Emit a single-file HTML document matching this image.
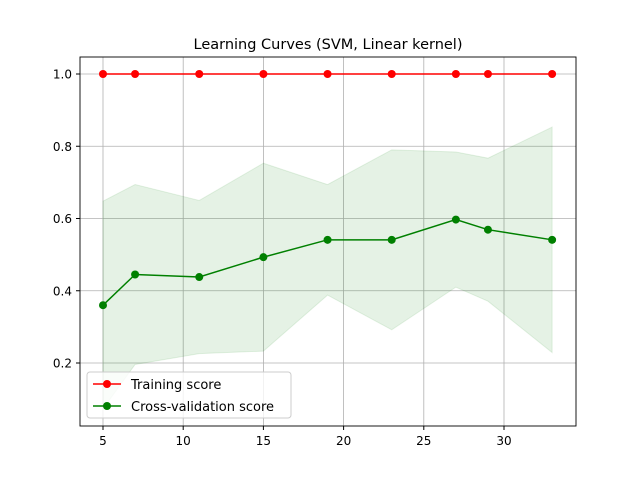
<!DOCTYPE html>
<html><head><meta charset="utf-8"><style>
body{margin:0;background:#fff;}
svg text{font-family:"DejaVu Sans","Liberation Sans",sans-serif;}
</style></head><body>
<svg id="chart" width="640" height="478" viewBox="0 0 640 478" xmlns="http://www.w3.org/2000/svg">
<rect width="640" height="478" fill="#fff"/>
<text x="328" y="49" text-anchor="middle" font-size="14.5">Learning Curves (SVM, Linear kernel)</text>
<g id="grid"></g>
<g id="band"></g>
<g id="series"></g>
<rect x="80" y="57" width="496" height="369" fill="none" stroke="#000" stroke-width="0.9"/>
<g id="ticks"></g>
<g>
<rect x="87" y="372" width="204" height="46" rx="3" fill="#fff" fill-opacity="0.8" stroke="#ccc"/>
<line x1="93" y1="384" x2="121" y2="384" stroke="red" stroke-width="1.5"/><circle cx="107" cy="384" r="4" fill="red"/>
<text x="131" y="389" font-size="13">Training score</text>
<line x1="93" y1="406" x2="121" y2="406" stroke="green" stroke-width="1.5"/><circle cx="107" cy="406" r="4" fill="green"/>
<text x="131" y="411" font-size="13">Cross-validation score</text>
</g>
</svg>
<script>
const trainSizes=[5,7,11,15,19,23,27,29,33];
const trainScores=[1,1,1,1,1,1,1,1,1];
const cvScores=[0.36,0.445,0.438,0.493,0.541,0.541,0.597,0.569,0.541];
const cvUpper=[0.648,0.694,0.65,0.753,0.694,0.79,0.784,0.767,0.853];
const cvLower=[0.073,0.196,0.226,0.233,0.388,0.292,0.41,0.371,0.229];
const xTicks=[5,10,15,20,25,30];
const yTicks=[0.2,0.4,0.6,0.8,1.0];
const X=v=>103+(v-5)*16.04;
const Y=v=>435.25-v*361.25;
const NS="http://www.w3.org/2000/svg";
function mk(tag,attrs,parent){const e=document.createElementNS(NS,tag);for(const k in attrs)e.setAttribute(k,attrs[k]);document.getElementById(parent).appendChild(e);return e;}
xTicks.forEach(t=>{
 const g=mk('line',{x1:X(t),x2:X(t),y1:57,y2:426,stroke:'#b0b0b0','stroke-width':0.8},'grid');
 
 
 mk('line',{x1:X(t),x2:X(t),y1:426,y2:430,stroke:'#000'},'ticks');
 const tx=mk('text',{x:X(t),y:445,'text-anchor':'middle','font-size':12},'ticks');tx.textContent=t;
 
 
});
yTicks.forEach(t=>{
 const g=mk('line',{x1:80,x2:576,y1:Y(t),y2:Y(t),stroke:'#b0b0b0','stroke-width':0.8},'grid');
 
 
 mk('line',{x1:76,x2:80,y1:Y(t),y2:Y(t),stroke:'#000'},'ticks');
 const tx=mk('text',{x:72,y:Y(t)+4.5,'text-anchor':'end','font-size':12},'ticks');tx.textContent=t.toFixed(1);
 
 
});
let d=trainSizes.map((s,i)=>(i?'L':'M')+X(s)+','+Y(cvUpper[i])).join('');
for(let i=trainSizes.length-1;i>=0;i--)d+='L'+X(trainSizes[i])+','+Y(cvLower[i]);
const b=mk('path',{d:d+'Z',fill:'green','fill-opacity':0.1,stroke:'green','stroke-opacity':0.1},'band');


[[trainScores,'red','training'],[cvScores,'green','cv']].forEach(([vals,c,n])=>{
 const p=mk('polyline',{points:trainSizes.map((s,i)=>X(s)+','+Y(vals[i])).join(' '),fill:'none',stroke:c,'stroke-width':1.5},'series');
 
 
 trainSizes.forEach((s,i)=>{const m=mk('circle',{cx:X(s),cy:Y(vals[i]),r:4,fill:c},'series');
  
  });
});
</script>
</body></html>
